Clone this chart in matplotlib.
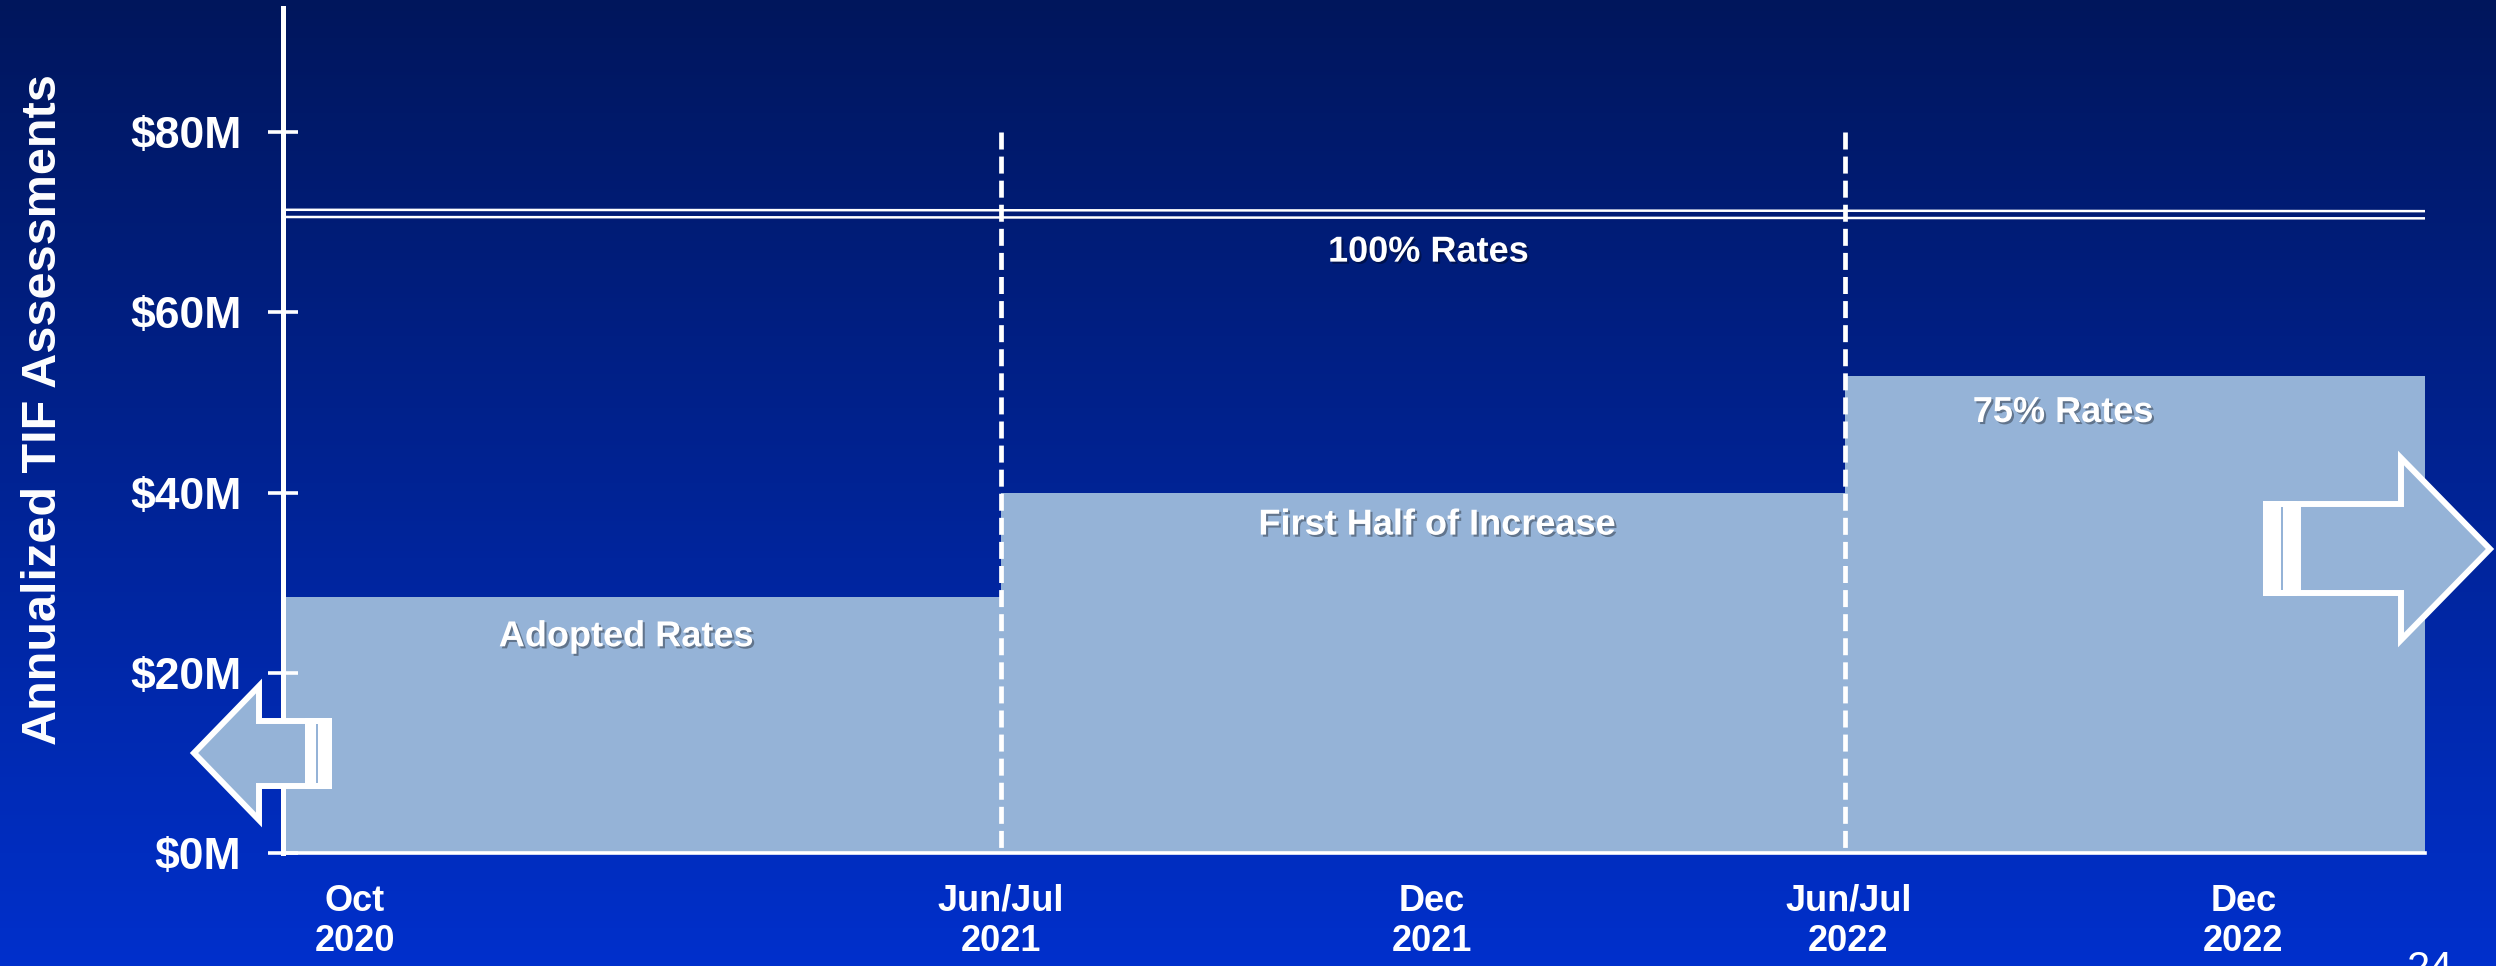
import matplotlib.pyplot as plt
import matplotlib.patheffects as pe
from matplotlib.patches import Polygon, Rectangle
import numpy as np

# Periods (x in slide units: Oct 2020 = 0, Jun/Jul 2021 = 1)
period_starts = [0.0, 1.0, 2.175]
period_end = 2.983
period_values = [28.4, 40.0, 53.0]          # $M, annualized TIF assessments
period_labels = ['Adopted Rates', 'First Half of Increase', '75% Rates']
full_rate = [71.0, 70.85]                   # 100% rates line, start / end
cutover_dates = [1.0, 2.175]
cutover_top = 80

tick_pos = [0.1, 1.0, 1.6, 2.18, 2.73]
tick_labels = ['Oct\n2020', 'Jun/Jul\n2021', 'Dec\n2021', 'Jun/Jul\n2022', 'Dec\n2022']
y_ticks = [0, 20, 40, 60, 80]

W, H = 2496, 966
fill_col = '#95B3D7'
plt.rcParams['font.family'] = ['Liberation Sans', 'DejaVu Sans']

fig = plt.figure(figsize=(W / 100, H / 100), dpi=100)

# background gradient
bg = fig.add_axes([0, 0, 1, 1], zorder=-10)
top = np.array([0, 22, 92]) / 255
bot = np.array([0, 48, 204]) / 255
t = np.linspace(0, 1, 256)[:, None]
grad = top[None, :] * (1 - t) + bot[None, :] * t
bg.imshow(grad[:, None, :], aspect='auto', extent=[0, 1, 0, 1])
bg.axis('off')

ax = fig.add_axes([283 / W, 113 / H, (2425 - 283) / W, (853 - 8) / H])
ax.set_facecolor('none')

# step areas
edges = period_starts + [period_end]
for i, v in enumerate(period_values):
    ax.fill_between([edges[i], edges[i + 1]], 0, v, color=fill_col, lw=0, zorder=1)

# 100% rates double line
ax.plot([0, period_end], [full_rate[0] + 0.4, full_rate[1] + 0.4], color='white', lw=1.8, zorder=3)
ax.plot([0, period_end], [full_rate[0] - 0.4, full_rate[1] - 0.4], color='white', lw=1.8, zorder=3)

# cutover dashed lines (drawn top-down so a dash starts at the top)
for x in cutover_dates:
    ax.plot([x, x], [cutover_top, 0], color='white', lw=3.4, dashes=(3.6, 1.5), zorder=4)

ax.set_xlim(0, period_end)
ax.set_ylim(0, 93.8)
ax.set_yticks(y_ticks)
ax.set_yticklabels(['$%dM' % v for v in y_ticks])
ax.set_xticks(tick_pos)
ax.set_xticklabels(tick_labels)
for s in ['top', 'right']:
    ax.spines[s].set_visible(False)
ax.spines['left'].set_color('white')
ax.spines['left'].set_linewidth(3.6)
ax.spines['bottom'].set_color('white')
ax.spines['bottom'].set_linewidth(2.6)
ax.spines['left'].set_zorder(5)
ax.tick_params(axis='y', direction='inout', length=22, width=2.6, colors='white',
               labelsize=32, pad=19)
ax.tick_params(axis='x', length=0, colors='white', labelsize=26, pad=22)
for lab in ax.get_yticklabels() + ax.get_xticklabels():
    lab.set_fontweight('bold')

shadow = [pe.SimplePatchShadow(offset=(1.5, -1.5), shadow_rgbFace='black', alpha=0.35), pe.Normal()]
txt = dict(color='white', fontsize=26, fontweight='bold', ha='center', va='center',
           path_effects=shadow, zorder=6)
ax.text(1.595, 66.7, '100% Rates', **txt)
ax.text(0.478, 24.0, period_labels[0], **txt)
ax.text(1.607, 36.4, period_labels[1], **txt)
ax.text(2.479, 48.9, period_labels[2], **txt)

fig.text(44 / W, 1 - 410 / H, 'Annualized TIF Assessments', rotation=90, color='white',
         fontsize=35, fontweight='bold', ha='center', va='center')


# striped block arrows (pixel coords from top-left)
def px(x, y):
    return (x / W, 1 - y / H)


def striped_arrow(body, stripe, line_x):
    fig.patches.append(Polygon([px(*p) for p in body], closed=True, transform=fig.transFigure,
                               facecolor=fill_col, edgecolor='white', lw=4.3, zorder=20))
    x0, y0, x1, y1 = stripe
    fig.patches.append(Rectangle(px(x0, y1), (x1 - x0) / W, (y1 - y0) / H, transform=fig.transFigure,
                                 facecolor='white', edgecolor='none', zorder=21))
    fig.patches.append(Rectangle(px(line_x, y1 - 6), 2 / W, (y1 - y0 - 12) / H,
                                 transform=fig.transFigure, facecolor=fill_col,
                                 edgecolor='none', zorder=22))


striped_arrow([(194, 753), (259, 686), (259, 721), (308, 721), (308, 786), (259, 786), (259, 820)],
              (305, 718, 332, 789), 316)
striped_arrow([(2298, 504), (2401, 504), (2401, 458), (2490, 549), (2401, 640), (2401, 593), (2298, 593)],
              (2263, 501, 2297, 596), 2281)

# slide number, cut off by the bottom edge as on the slide
fig.text(2430 / W, 1 - 950 / H, '24', color='white', fontsize=30, ha='center', va='top')

fig.savefig('out.png', dpi=100)
